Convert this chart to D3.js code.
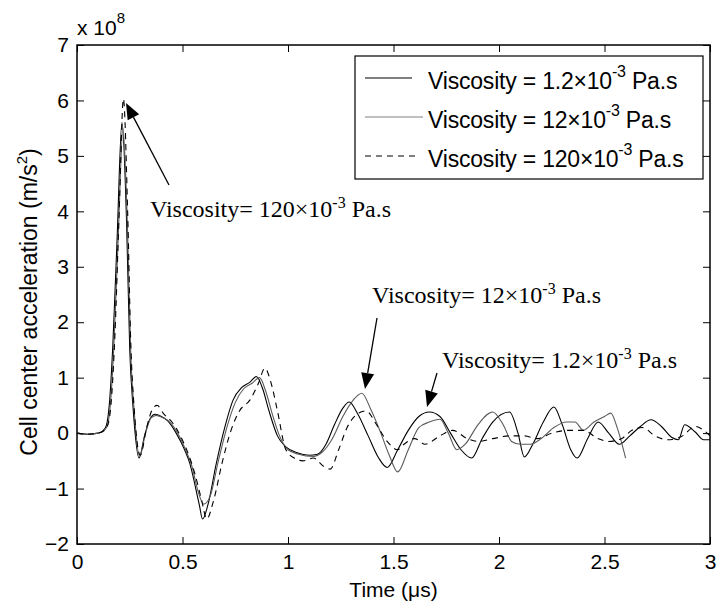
<!DOCTYPE html>
<html lang="en">
<head>
<meta charset="utf-8" />
<title>Cell center acceleration</title>
<script src="https://cdn.jsdelivr.net/npm/d3@7/dist/d3.min.js"></script>
<style>
  body { margin: 0; background: #fff; }
  svg { display: block; }
  .tick text { font-family: Arial, "Liberation Sans", sans-serif; font-size: 21px; fill: #000; }
</style>
</head>
<body>
<svg width="718" height="608"></svg>
<script>
// time in microseconds, acceleration in units of 1e8 m/s^2
var timeA = [0, 0.05, 0.1, 0.125, 0.14, 0.155, 0.17, 0.19, 0.213, 0.235, 0.25, 0.265, 0.294, 0.32, 0.345, 0.37, 0.4, 0.43, 0.47, 0.51, 0.535, 0.56, 0.58, 0.595, 0.62, 0.66, 0.7, 0.74, 0.78, 0.82, 0.85, 0.88, 0.91, 0.95, 0.99, 1.04, 1.1, 1.14, 1.18, 1.22, 1.26, 1.29, 1.33, 1.38, 1.43, 1.47, 1.52, 1.57, 1.62, 1.67, 1.72, 1.77, 1.82, 1.87, 1.92, 1.97, 2.05, 2.09, 2.12, 2.16, 2.21, 2.26, 2.3, 2.34, 2.37, 2.42, 2.47, 2.52, 2.57, 2.62, 2.67, 2.72, 2.77, 2.82, 2.85, 2.88, 2.93, 2.97, 3.0];
var accA  = [0, -0.02, 0, 0.05, 0.15, 0.6, 1.6, 3.5, 5.6, 3.8, 1.5, 0.5, -0.45, -0.05, 0.25, 0.34, 0.3, 0.22, 0, -0.3, -0.55, -0.95, -1.3, -1.55, -1.3, -0.55, 0.1, 0.6, 0.82, 0.92, 1.02, 0.8, 0.4, -0.05, -0.25, -0.35, -0.4, -0.38, -0.2, 0.15, 0.45, 0.56, 0.35, -0.05, -0.45, -0.62, -0.3, 0.05, 0.3, 0.38, 0.3, 0, -0.3, -0.45, -0.1, 0.2, 0.38, 0, -0.43, -0.2, 0.2, 0.47, 0.15, -0.3, -0.45, -0.1, 0.2, 0, -0.2, -0.05, 0.12, 0.24, 0.12, -0.08, -0.12, 0.15, 0.02, -0.12, -0.12];

var timeB = [0, 0.05, 0.1, 0.13, 0.145, 0.16, 0.175, 0.195, 0.218, 0.24, 0.255, 0.27, 0.297, 0.325, 0.35, 0.375, 0.405, 0.44, 0.48, 0.52, 0.545, 0.57, 0.6, 0.63, 0.67, 0.71, 0.75, 0.79, 0.83, 0.865, 0.895, 0.925, 0.96, 1.0, 1.05, 1.12, 1.16, 1.21, 1.26, 1.31, 1.35, 1.39, 1.44, 1.48, 1.52, 1.57, 1.62, 1.67, 1.72, 1.76, 1.8, 1.84, 1.9, 1.97, 2.02, 2.06, 2.1, 2.15, 2.2, 2.26, 2.32, 2.36, 2.4, 2.45, 2.5, 2.53, 2.56, 2.6];
var accB  = [0, -0.02, 0, 0.05, 0.15, 0.6, 1.6, 3.5, 5.5, 3.6, 1.4, 0.45, -0.42, 0, 0.27, 0.32, 0.28, 0.2, -0.02, -0.35, -0.6, -1.0, -1.28, -1.15, -0.5, 0.1, 0.55, 0.8, 0.9, 1.0, 0.75, 0.35, -0.05, -0.3, -0.38, -0.42, -0.35, -0.1, 0.3, 0.6, 0.72, 0.45, 0, -0.4, -0.7, -0.3, 0.1, 0.2, 0.25, 0, -0.3, -0.2, 0.15, 0.38, 0.15, -0.15, -0.2, -0.2, -0.1, 0.1, 0.2, 0.2, 0.05, 0.2, 0.3, 0.36, 0.1, -0.45];

var timeC = [0, 0.05, 0.1, 0.13, 0.15, 0.165, 0.18, 0.2, 0.22, 0.24, 0.255, 0.27, 0.3, 0.33, 0.36, 0.38, 0.41, 0.45, 0.49, 0.53, 0.56, 0.59, 0.615, 0.645, 0.69, 0.73, 0.77, 0.82, 0.86, 0.89, 0.92, 0.95, 0.99, 1.03, 1.07, 1.12, 1.17, 1.2, 1.24, 1.28, 1.33, 1.37, 1.42, 1.47, 1.52, 1.55, 1.6, 1.65, 1.72, 1.78, 1.85, 1.9, 1.97, 2.05, 2.12, 2.18, 2.25, 2.33, 2.4, 2.47, 2.52, 2.58, 2.63, 2.68, 2.74, 2.8, 2.87, 2.93, 2.97, 3.0];
var accC  = [0, -0.02, 0, 0.05, 0.2, 0.7, 1.8, 4.0, 6.03, 4.0, 1.6, 0.5, -0.4, 0.1, 0.45, 0.5, 0.35, 0.2, -0.05, -0.4, -0.75, -1.2, -1.55, -1.25, -0.5, 0.05, 0.4, 0.6, 0.9, 1.17, 0.9, 0.4, -0.3, -0.45, -0.5, -0.45, -0.6, -0.65, -0.3, 0.1, 0.35, 0.4, 0.15, -0.15, -0.3, -0.2, -0.1, -0.2, -0.05, 0.05, -0.1, -0.15, -0.1, -0.05, -0.05, -0.1, 0, 0.05, 0.05, -0.1, -0.15, -0.1, 0.05, 0.1, -0.05, -0.12, -0.05, 0.12, 0.05, -0.05];

var xTicks = [0, 0.5, 1, 1.5, 2, 2.5, 3];
var yTicks = [-2, -1, 0, 1, 2, 3, 4, 5, 6, 7];
var legendMain = ['Viscosity = 1.2\u00d710', 'Viscosity = 12\u00d710', 'Viscosity = 120\u00d710'];
var noteMain = ['Viscosity= 120\u00d710', 'Viscosity= 12\u00d710', 'Viscosity= 1.2\u00d710'];

var svg = d3.select('svg'),
    plotL = 77, plotR = 710, plotT = 45, plotB = 544;

var x = d3.scaleLinear().domain([0, 3]).range([plotL, plotR]);
var y = d3.scaleLinear().domain([-2, 7]).range([plotB, plotT]);

svg.append('defs').append('clipPath').attr('id', 'clip')
    .append('rect').attr('x', plotL).attr('y', plotT)
    .attr('width', plotR - plotL).attr('height', plotB - plotT);

// axes, ticks pointing inwards on all four sides
var fmt = d3.format('');
svg.append('g').attr('transform', 'translate(0,' + plotB + ')')
    .call(d3.axisBottom(x).tickValues(xTicks).tickSizeInner(-7).tickSizeOuter(0).tickPadding(10).tickFormat(fmt));
svg.append('g').attr('transform', 'translate(0,' + plotT + ')')
    .call(d3.axisTop(x).tickValues(xTicks).tickSizeInner(-7).tickSizeOuter(0).tickFormat(''));
svg.append('g').attr('transform', 'translate(' + plotL + ',0)')
    .call(d3.axisLeft(y).tickValues(yTicks).tickSizeInner(-7).tickSizeOuter(0).tickPadding(8).tickFormat(fmt));
svg.append('g').attr('transform', 'translate(' + plotR + ',0)')
    .call(d3.axisRight(y).tickValues(yTicks).tickSizeInner(-7).tickSizeOuter(0).tickFormat(''));
svg.selectAll('.domain').remove();
svg.selectAll('.tick line').attr('stroke', '#000');

svg.append('rect').attr('x', plotL).attr('y', plotT)
    .attr('width', plotR - plotL).attr('height', plotB - plotT)
    .attr('fill', 'none').attr('stroke', '#000').attr('stroke-width', 1.5);

// exponent above the y axis
var ex = svg.append('text').attr('x', plotL).attr('y', 35)
    .attr('font-family', 'Arial, "Liberation Sans", sans-serif').attr('font-size', 21);
ex.append('tspan').text('x 10');
ex.append('tspan').attr('dy', -12).attr('font-size', 15).text('8');

// axis titles
svg.append('text').attr('x', (plotL + plotR) / 2).attr('y', 597)
    .attr('text-anchor', 'middle')
    .attr('font-family', 'Arial, "Liberation Sans", sans-serif').attr('font-size', 21)
    .text('Time (\u03bcs)');

var yt = svg.append('text')
    .attr('transform', 'translate(37,302) rotate(-90)')
    .attr('text-anchor', 'middle')
    .attr('font-family', 'Arial, "Liberation Sans", sans-serif').attr('font-size', 23);
yt.append('tspan').text('Cell center acceleration (m/s');
yt.append('tspan').attr('dy', -10).attr('font-size', 15).text('2');
yt.append('tspan').attr('dy', 10).text(')');

// curves
var series = [
    { t: timeA, v: accA, color: '#000', dash: null },
    { t: timeB, v: accB, color: '#5a5a5a', dash: null },
    { t: timeC, v: accC, color: '#000', dash: '6,5' }
];

var line = d3.line()
    .x(function(d) { return x(d[0]); })
    .y(function(d) { return y(d[1]); })
    .curve(d3.curveMonotoneX);

var plot = svg.append('g').attr('clip-path', 'url(#clip)');
series.forEach(function(s) {
    plot.append('path')
        .datum(d3.zip(s.t, s.v))
        .attr('fill', 'none')
        .attr('stroke', s.color)
        .attr('stroke-width', 1.1)
        .attr('stroke-dasharray', s.dash)
        .attr('d', line);
});

// legend
var lg = svg.append('g');
lg.append('rect').attr('x', 355).attr('y', 56).attr('width', 348).attr('height', 123)
    .attr('fill', '#fff').attr('stroke', '#000').attr('stroke-width', 1.2);
var rowY = [78, 117, 156], lineEnd = [412, 423, 420];
series.forEach(function(s, i) {
    lg.append('line').attr('x1', 365).attr('x2', lineEnd[i])
        .attr('y1', rowY[i]).attr('y2', rowY[i])
        .attr('stroke', i === 1 ? '#808080' : '#000').attr('stroke-width', 1.1)
        .attr('stroke-dasharray', s.dash);
    var t = lg.append('text').attr('x', 428).attr('y', rowY[i] + 11)
        .attr('font-family', 'Arial, "Liberation Sans", sans-serif').attr('font-size', 23)
        .attr('letter-spacing', -0.2);
    t.append('tspan').text(legendMain[i]);
    t.append('tspan').attr('dy', -12).attr('font-size', 16).text('-3');
    t.append('tspan').attr('dy', 12).text(' Pa.s');
});

// annotations with arrows
var notes = [
    { x: 150, y: 217, from: [169, 185], to: [126, 103] },
    { x: 372, y: 303, from: [377, 318], to: [365, 389] },
    { x: 442, y: 368, from: [437, 373], to: [427, 407] }
];
notes.forEach(function(n, i) {
    var t = svg.append('text').attr('x', n.x).attr('y', n.y)
        .attr('font-family', '"Liberation Serif", "Times New Roman", serif').attr('font-size', 24);
    t.append('tspan').text(noteMain[i]);
    t.append('tspan').attr('dy', -9).attr('font-size', 16).text('-3');
    t.append('tspan').attr('dy', 9).text(' Pa.s');

    var dx = n.to[0] - n.from[0], dy = n.to[1] - n.from[1],
        len = Math.sqrt(dx * dx + dy * dy), ux = dx / len, uy = dy / len,
        hl = 16, hw = 6.5,
        bx = n.to[0] - ux * hl, by = n.to[1] - uy * hl;
    svg.append('line').attr('x1', n.from[0]).attr('y1', n.from[1])
        .attr('x2', bx).attr('y2', by).attr('stroke', '#000').attr('stroke-width', 1.3);
    svg.append('path')
        .attr('d', 'M' + n.to[0] + ',' + n.to[1] +
            'L' + (bx - uy * hw) + ',' + (by + ux * hw) +
            'L' + (bx + uy * hw) + ',' + (by - ux * hw) + 'Z')
        .attr('fill', '#000');
});
</script>
</body>
</html>
